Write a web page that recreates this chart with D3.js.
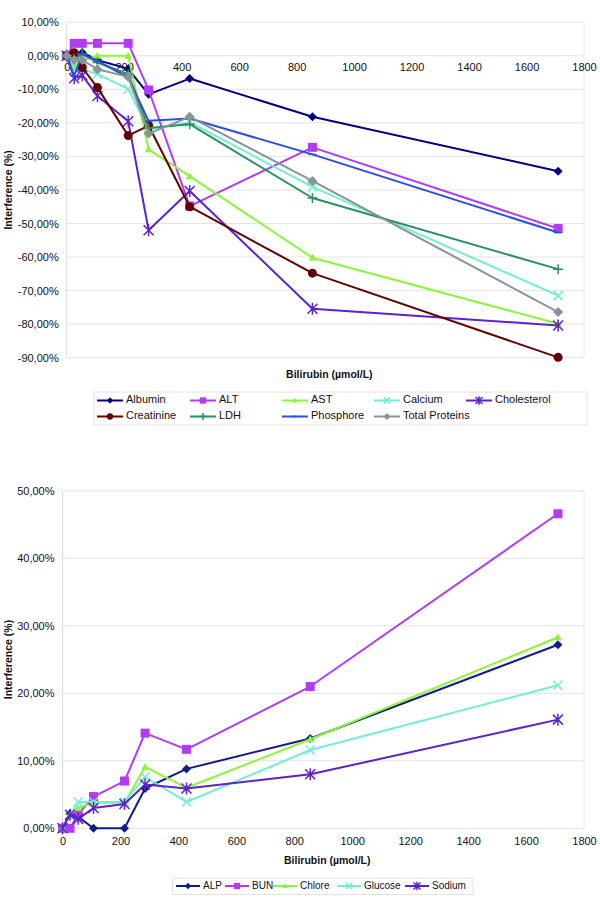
<!DOCTYPE html>
<html><head><meta charset="utf-8">
<script src="https://cdn.jsdelivr.net/npm/d3@7"></script>
<style>
html,body{margin:0;padding:0;background:#fff;}
svg{display:block;font-family:"Liberation Sans",Arial,sans-serif;}
</style></head>
<body>
<svg id="c" width="600" height="902"></svg>
<script>
// ---------- DATA ----------
const bilirubin = [0, 26, 54, 107, 214, 285, 428, 855, 1710];
const xTicks = [0, 200, 400, 600, 800, 1000, 1200, 1400, 1600, 1800];

// Top chart (negative interference)
const albumin      = [0, 0, 1, -1.3, -3.9, -11.5, -6.8, -18.2, -34.4];
const alt          = [0, 3.7, 3.7, 3.7, 3.7, -10.2, -44.8, -27.3, -51.5];
const ast          = [0, -3, -1.5, 0, 0, -27.9, -35.9, -60.2, -79.9];
const calcium      = [0, -4, -4, -5.5, -9.9, -22, -19.8, -39.1, -71.5];
const cholesterol  = [0, -6.7, -5.8, -12, -19.5, -52, -40.3, -75.4, -80.4];
const creatinine   = [0, 0.9, -3.5, -9.5, -23.8, -20.8, -45, -64.8, -89.9];
const ldh          = [0, -1, 0.5, -2, -5.5, -21.5, -20.4, -42.4, -63.6];
const phosphore    = [0, -6, 0.5, -1.5, -6.5, -19.4, -18.7, -29.4, -52.7];
const totalProteins= [0, -1.3, -1.3, -4, -6.3, -23.2, -18.2, -37.3, -76.4];
const topNames = ["Albumin","ALT","AST","Calcium","Cholesterol","Creatinine","LDH","Phosphore","Total Proteins"];
const topYTicks = [10, 0, -10, -20, -30, -40, -50, -60, -70, -80, -90];

// Bottom chart (positive interference)
const alp     = [0, 2.2, 1.7, 0, 0, 5.9, 8.8, 13.3, 27.2];
const bun     = [0, 0, 2.1, 4.7, 7, 14.1, 11.7, 21, 46.6];
const chlore  = [0, 2, 3, 3.8, 3.8, 9.1, 6, 13.2, 28.3];
const glucose = [0, 2, 3.9, 3.9, 3.9, 7.6, 3.9, 11.6, 21.2];
const sodium  = [0, 2, 1.4, 3, 3.6, 6.5, 5.9, 8, 16.1];
const bottomNames = ["ALP","BUN","Chlore","Glucose","Sodium"];
const bottomYTicks = [0, 10, 20, 30, 40, 50];

// ---------- STYLES ----------
const styles = {
  "Albumin":       {color:"#000080", m:"diamond", r:4.5},
  "ALT":           {color:"#B23CF5", m:"square",  r:4.5},
  "AST":           {color:"#8CF53A", m:"triangle",r:4},
  "Calcium":       {color:"#72EDD6", m:"x",       r:4.5},
  "Cholesterol":   {color:"#5E22C8", m:"asterisk",r:5},
  "Creatinine":    {color:"#660000", m:"circle",  r:4.5},
  "LDH":           {color:"#2A9062", m:"plus",    r:5},
  "Phosphore":     {color:"#2B4FE0", m:"dash",    r:4},
  "Total Proteins":{color:"#8A9494", m:"diamond", r:5},
  "ALP":           {color:"#101E8C", m:"diamond", r:4.5},
  "BUN":           {color:"#B23CF5", m:"square",  r:4.5},
  "Chlore":        {color:"#8CF53A", m:"triangle",r:4},
  "Glucose":       {color:"#72EDD6", m:"x",       r:4.5},
  "Sodium":        {color:"#5E22C8", m:"asterisk",r:5}
};

function markerPath(m, r){
  switch(m){
    case "diamond": return `M0,${-r}L${r},0L0,${r}L${-r},0Z`;
    case "square": return `M${-r},${-r}H${r}V${r}H${-r}Z`;
    case "triangle": return `M0,${-r}L${r*0.95},${r*0.75}L${-r*0.95},${r*0.75}Z`;
    case "circle": return d3.arc()({innerRadius:0,outerRadius:r,startAngle:0,endAngle:2*Math.PI});
    case "x": return `M${-r},${-r}L${r},${r}M${r},${-r}L${-r},${r}`;
    case "asterisk": return `M${-r},${-r}L${r},${r}M${r},${-r}L${-r},${r}M0,${-r*1.2}V${r*1.2}`;
    case "plus": return `M${-r},0H${r}M0,${-r}V${r}`;
    case "dash": return `M${-r},0H${r}`;
  }
}
const filled = m => ["diamond","square","triangle","circle"].includes(m);

function drawMarker(g, name, x, y, scale){
  const s = styles[name];
  const p = g.append("path").attr("d", markerPath(s.m, s.r*scale)).attr("transform",`translate(${x},${y})`);
  if(filled(s.m)) p.attr("fill", s.color).attr("stroke","none");
  else p.attr("fill","none").attr("stroke", s.color).attr("stroke-width",1.5);
}

const fmtPct = v => v.toFixed(2).replace(".", ",") + "%";
const svg = d3.select("#c");

function chart(opts){
  const {series, names, yTicks, left, right, top, bottom, yDomain, xLabelY, titleY, yTitleX, legend} = opts;
  const x = d3.scaleLinear().domain([0, 1800]).range([left, right]);
  const y = d3.scaleLinear().domain(yDomain).range([bottom, top]);
  const g = svg.append("g");

  // grid
  g.selectAll(".grid").data(yTicks).join("line")
    .attr("x1", left).attr("x2", right)
    .attr("y1", d => y(d)).attr("y2", d => y(d))
    .attr("stroke", "#e3e3e3").attr("stroke-width", 1);
  g.append("line").attr("x1",left).attr("x2",left).attr("y1",top).attr("y2",bottom).attr("stroke","#dcdcdc");
  g.append("line").attr("x1",right).attr("x2",right).attr("y1",top).attr("y2",bottom).attr("stroke","#e8e8e8");

  // y tick labels
  const yAxis = d3.axisLeft(y).tickValues(yTicks).tickFormat(fmtPct).tickSize(0).tickPadding(8);
  const ya = g.append("g").attr("transform",`translate(${left},0)`).call(yAxis);
  ya.select(".domain").remove();
  ya.selectAll("text").attr("font-size", 11).attr("fill","#111").attr("font-family","Liberation Sans, Arial, sans-serif");

  // x tick labels at zero line
  const xAxis = d3.axisBottom(x).tickValues(xTicks).tickFormat(d3.format("d")).tickSize(0).tickPadding(0);
  const xa = g.append("g").attr("transform",`translate(0,${y(0)})`).call(xAxis);
  xa.select(".domain").remove();
  xa.selectAll("text").attr("font-size", 11).attr("fill","#111").attr("dy", null).attr("y", xLabelY)
    .attr("dominant-baseline","middle").attr("font-family","Liberation Sans, Arial, sans-serif");

  // axis titles
  g.append("text").attr("x", (left+right)/2 + 4).attr("y", titleY).attr("text-anchor","middle")
    .attr("font-size", 10.5).attr("font-weight","bold").attr("fill","#111").text("Bilirubin (µmol/L)");
  g.append("text").attr("transform",`translate(${yTitleX},${(top+bottom)/2}) rotate(-90)`)
    .attr("text-anchor","middle").attr("font-size", 10.5).attr("font-weight","bold").attr("fill","#111")
    .text("Interference (%)");

  // lines
  const line = d3.line().x((d,i) => x(bilirubin[i])).y(d => y(d));
  series.forEach((vals, k) => {
    const name = names[k];
    g.append("path").attr("d", line(vals)).attr("fill","none")
      .attr("stroke", styles[name].color).attr("stroke-width", 2).attr("stroke-linejoin","round");
    vals.forEach((v, i) => drawMarker(g, name, x(bilirubin[i]), y(v), 1));
  });

  // legend
  const lg = svg.append("g");
  lg.append("rect").attr("x", legend.x0).attr("y", legend.y0).attr("width", legend.x1-legend.x0)
    .attr("height", legend.y1-legend.y0).attr("fill","#fff").attr("stroke","#e2e2e2");
  legend.items.forEach(it => {
    const s = styles[it.name];
    lg.append("line").attr("x1", it.x).attr("x2", it.x+legend.len).attr("y1", it.y).attr("y2", it.y)
      .attr("stroke", s.color).attr("stroke-width", 2);
    drawMarker(lg, it.name, it.x+legend.len/2, it.y, 0.7);
    lg.append("text").attr("x", it.x+legend.len+3).attr("y", it.y).attr("dominant-baseline","middle")
      .attr("font-size", legend.fs).attr("fill","#111").text(it.name);
  });
}

// top chart
const topCols = [97, 190, 282, 374, 466];
chart({
  series:[albumin, alt, ast, calcium, cholesterol, creatinine, ldh, phosphore, totalProteins],
  names: topNames, yTicks: topYTicks,
  left: 66.7, right: 584, top: 22.2, bottom: 357.7, yDomain: [-90, 10],
  xLabelY: 12.5, titleY: 378, yTitleX: 12,
  legend: {x0: 94, x1: 587, y0: 392, y1: 425, len: 26, fs: 11,
    items: topNames.map((n,i) => ({name:n, x: topCols[i%5], y: i<5 ? 400.5 : 416.5}))}
});

// bottom chart
const botX = [176, 225, 273, 337, 405];
chart({
  series:[alp, bun, chlore, glucose, sodium],
  names: bottomNames, yTicks: bottomYTicks,
  left: 62.5, right: 584, top: 490.8, bottom: 828.3, yDomain: [0, 50],
  xLabelY: 14, titleY: 864, yTitleX: 12,
  legend: {x0: 172.5, x1: 473, y0: 878, y1: 894.5, len: 24, fs: 10,
    items: bottomNames.map((n,i) => ({name:n, x: botX[i], y: 886}))}
});
</script>
</body></html>
